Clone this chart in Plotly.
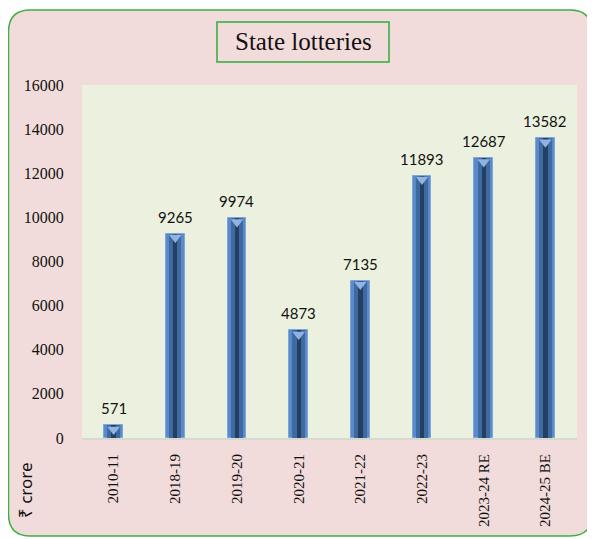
import plotly.graph_objects as go

categories = ["2010-11", "2018-19", "2019-20", "2020-21", "2021-22", "2022-23", "2023-24 RE", "2024-25 BE"]
values = [571, 9265, 9974, 4873, 7135, 11893, 12687, 13582]
y_ticks = [0, 2000, 4000, 6000, 8000, 10000, 12000, 14000, 16000]
title_text = "State lotteries"
y_label = "₹ crore"

OFF = 8  # page body margin
W, H = 595, 539
L, R, T, B = 82 - OFF, 595 - (577 - OFF), 85 - OFF, 539 - (438 - OFF)
pw, ph = W - L - R, H - T - B
SERIF = "Liberation Serif"

def px(x):
    return (x - OFF - L) / pw

def py(y):
    return (H - B - (y - OFF)) / ph

# offset axis so that the triangle caps sit just inside the bar tops
cap_shift = 4 * 16000 / ph

fig = go.Figure()
fig.add_trace(go.Bar(x=categories, y=values, width=0.30,
                     marker=dict(color="#5A8ACB", line=dict(color="#7FA6D8", width=1)),
                     hoverinfo="skip", showlegend=False))
fig.add_trace(go.Bar(x=categories, y=values, width=0.20,
                     marker=dict(color="#3F6A9F", line=dict(width=0)),
                     hoverinfo="skip", showlegend=False))
fig.add_trace(go.Bar(x=categories, y=values, width=0.07,
                     marker=dict(color="#243F64", line=dict(width=0)),
                     hoverinfo="skip", showlegend=False))
fig.add_trace(go.Scatter(x=categories, y=values, mode="markers", yaxis="y2",
                         marker=dict(symbol="triangle-down", size=11, color="#8DB4E2",
                                     line=dict(width=0)),
                         hoverinfo="skip", showlegend=False))

annotations = []
for c, v in zip(categories, values):
    annotations.append(dict(x=c, y=v, xref="x", yref="y", text=str(v), showarrow=False,
                            yshift=17, yanchor="middle", xanchor="center",
                            font=dict(family="Lato", size=15, color="#111")))
annotations.append(dict(x=px(25), y=py(490), xref="paper", yref="paper", text=y_label,
                        textangle=-90, showarrow=False, xanchor="center", yanchor="middle",
                        font=dict(family="Noto Sans", size=17, color="#111")))
annotations.append(dict(x=px(303), y=py(42), xref="paper", yref="paper", text=title_text,
                        showarrow=False, xanchor="center", yanchor="middle",
                        font=dict(family=SERIF, size=25, color="#111")))

# rounded outer border
x0, x1, y0, y1, r = 8.5, 592, 10, 536, 22
def P(x, y):
    return f"{px(x):.5f},{py(y):.5f}"
path = (f"M {P(x0 + r, y0)} L {P(x1 - r, y0)} Q {P(x1, y0)} {P(x1, y0 + r)} "
        f"L {P(x1, y1 - r)} Q {P(x1, y1)} {P(x1 - r, y1)} "
        f"L {P(x0 + r, y1)} Q {P(x0, y1)} {P(x0, y1 - r)} "
        f"L {P(x0, y0 + r)} Q {P(x0, y0)} {P(x0 + r, y0)} Z")
shapes = [
    dict(type="path", path=path, xref="paper", yref="paper", layer="below",
         fillcolor="#F2DCDB", line=dict(color="#3CB043", width=1.5)),
    dict(type="rect", xref="paper", yref="paper", x0=0, x1=1, y0=0, y1=1,
         layer="below", fillcolor="#EBF1DE", line=dict(width=0)),
    dict(type="rect", xref="paper", yref="paper", x0=px(217), x1=px(389), y0=py(62), y1=py(22),
         fillcolor="rgba(0,0,0,0)", line=dict(color="#2EAA3A", width=1.5)),
]

fig.update_layout(
    width=W, height=H, margin=dict(l=L, r=R, t=T, b=B, autoexpand=False),
    paper_bgcolor="white", plot_bgcolor="rgba(0,0,0,0)",
    barmode="overlay", bargap=0, showlegend=False,
    annotations=annotations, shapes=shapes,
    xaxis=dict(type="category", tickangle=-90, showgrid=False, zeroline=False,
               showline=True, linecolor="#D6D9D0", linewidth=2,
               ticks="outside", ticklen=8, tickcolor="rgba(0,0,0,0)",
               tickfont=dict(family=SERIF, size=15, color="#111")),
    yaxis=dict(range=[0, 16000], tickvals=y_ticks, tickformat="d", showgrid=False, zeroline=False,
               ticks="outside", ticklen=14, tickcolor="rgba(0,0,0,0)",
               tickfont=dict(family=SERIF, size=16, color="#111")),
    yaxis2=dict(overlaying="y", range=[cap_shift, 16000 + cap_shift], visible=False),
)

fig.write_html("out.html")
